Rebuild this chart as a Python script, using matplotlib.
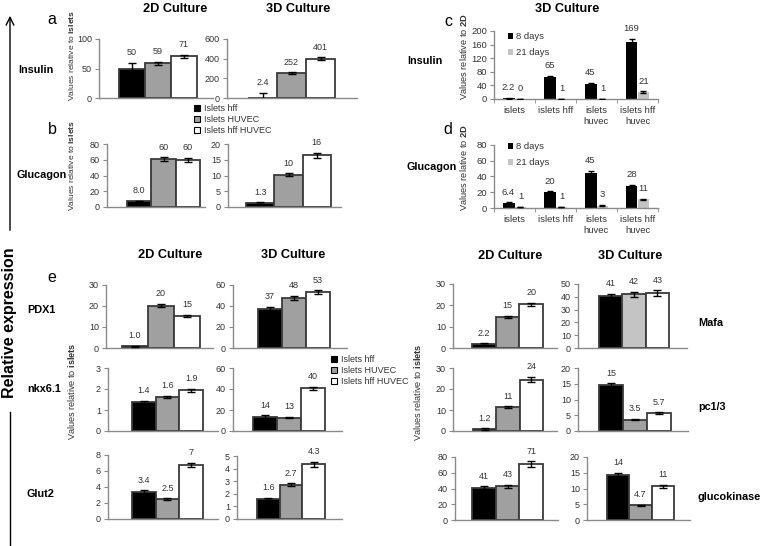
import numpy as np
import matplotlib
matplotlib.use("Agg")
import matplotlib.pyplot as plt
from matplotlib.patches import Patch

plt.rcParams['font.family'] = ['Liberation Sans', 'DejaVu Sans']
plt.rcParams['mathtext.fontset'] = 'custom'
plt.rcParams['mathtext.rm'] = 'Liberation Sans'
plt.rcParams['mathtext.bf'] = 'Liberation Sans:bold'

W, H = 765, 546

# ---- data ----
groups = ['Islets hff', 'Islets HUVEC', 'Islets hff HUVEC']
days = ['8 days', '21 days']
cells = ['islets', 'islets hff', 'islets\nhuvec', 'islets hff\nhuvec']

# a / b : insulin, glucagon relative to islets
ins2d = [49, 59, 70.5]
ins2d_err = [11, 2.5, 3]
ins2d_lbl = ['50', '59', '71']
ins3d = [2.4, 252, 401]
ins3d_err = [50, 8, 15]
ins3d_lbl = ['2.4', '252', '401']
glu2d = [7.0, 60.5, 60]
glu2d_err = [1, 2.5, 2.5]
glu2d_lbl = ['8.0', '60', '60']
glu3d = [1.3, 10.2, 16.5]
glu3d_err = [0.2, 0.5, 0.8]
glu3d_lbl = ['1.3', '10', '16']

# c / d : 3D culture relative to 2D
ins_8d = [2.2, 65, 45, 169]
ins_8d_err = [1, 4, 2, 8]
ins_8d_lbl = ['2.2', '65', '45', '169']
ins_21d = [0.3, 1, 1, 21]
ins_21d_err = [0, 0.3, 0.3, 2]
ins_21d_lbl = ['0', '1', '1', '21']
glc_8d = [6.4, 20, 45, 28]
glc_8d_err = [1, 1.2, 2.5, 1.5]
glc_8d_lbl = ['6.4', '20', '45', '28']
glc_21d = [1, 1, 3, 11]
glc_21d_err = [0.3, 0.3, 0.8, 0.8]
glc_21d_lbl = ['1', '1', '3', '11']

# e : marker genes
pdx1_2d = [0.8, 20.2, 15.2]
pdx1_2d_err = [0.3, 0.8, 0.6]
pdx1_2d_lbl = ['1.0', '20', '15']
pdx1_3d = [37, 48, 53]
pdx1_3d_err = [2, 2, 2]
pdx1_3d_lbl = ['37', '48', '53']
nkx_2d = [1.37, 1.62, 1.93]
nkx_2d_err = [0.08, 0.06, 0.08]
nkx_2d_lbl = ['1.4', '1.6', '1.9']
nkx_3d = [13.8, 12.8, 40.5]
nkx_3d_err = [1, 0.8, 1.5]
nkx_3d_lbl = ['14', '13', '40']
glut2_2d = [3.35, 2.5, 6.75]
glut2_2d_err = [0.25, 0.1, 0.3]
glut2_2d_lbl = ['3.4', '2.5', '7']
glut2_3d = [1.6, 2.7, 4.35]
glut2_3d_err = [0.1, 0.12, 0.2]
glut2_3d_lbl = ['1.6', '2.7', '4.3']
mafa_2d = [1.9, 14.5, 20.5]
mafa_2d_err = [0.4, 0.6, 0.8]
mafa_2d_lbl = ['2.2', '15', '20']
mafa_3d = [40.5, 42, 43]
mafa_3d_err = [2, 2, 2]
mafa_3d_lbl = ['41', '42', '43']
pc13_2d = [0.9, 11.3, 24.5]
pc13_2d_err = [0.3, 0.4, 1.2]
pc13_2d_lbl = ['1.2', '11', '24']
pc13_3d = [14.5, 3.6, 5.7]
pc13_3d_err = [0.7, 0.2, 0.3]
pc13_3d_lbl = ['15', '3.5', '5.7']
gk_2d = [41, 43, 71]
gk_2d_err = [2, 2, 3.5]
gk_2d_lbl = ['41', '43', '71']
gk_3d = [14.2, 4.7, 10.7]
gk_3d_err = [0.8, 0.2, 0.4]
gk_3d_lbl = ['14', '4.7', '11']

# ---- styles ----
SPINE = '#8a8a8a'
TXT = '#333333'
EDGE = '#3a3a3a'
COLS = ['black', '#a0a0a0', 'white']
COLS_MAFA = ['black', '#c4c4c4', 'white']
FS = 6.5

fig = plt.figure(figsize=(W / 100, H / 100), dpi=100)

# overlay in pixel coordinates for free text and the arrow
ov = fig.add_axes([0, 0, 1, 1])
ov.set_xlim(0, W)
ov.set_ylim(H, 0)
ov.axis('off')


def px_axes(x0, y0, x1, y1):
    return fig.add_axes([x0 / W, 1 - y1 / H, (x1 - x0) / W, (y1 - y0) / H])


def style(ax, ymax, step, fs=FS):
    for s in ['top', 'right']:
        ax.spines[s].set_visible(False)
    for s in ['left', 'bottom']:
        ax.spines[s].set_color(SPINE)
        ax.spines[s].set_linewidth(1)
    ax.set_ylim(0, ymax)
    ax.set_yticks(np.arange(0, ymax + step / 2, step))
    ax.tick_params(axis='y', length=3, color=SPINE, labelsize=fs, labelcolor=TXT, pad=2)
    ax.patch.set_alpha(0)


def label_bars(ax, xs, vals, errs, lbls, fs=FS):
    for x, v, e, l in zip(xs, vals, errs, lbls):
        ax.annotate(l, (x, v + e), xytext=(0, 4), textcoords='offset points',
                    ha='center', va='bottom', fontsize=fs, color=TXT)


def triple(box, bars, vals, errs, lbls, ymax, step, colors=COLS):
    x0, y0, x1, y1 = box
    bl, br = bars
    ax = px_axes(x0, y0, x1, y1)
    bw = (br - bl) / 3
    x = np.arange(3)
    ax.bar(x, vals, width=1, color=colors, edgecolor=EDGE, linewidth=1.3, zorder=2)
    ax.errorbar(x, vals, yerr=errs, fmt='none', ecolor='black', elinewidth=1,
                capsize=3, capthick=1, zorder=3)
    label_bars(ax, x, vals, errs, lbls)
    ax.set_xlim(-0.5 - (bl - x0) / bw, 2.5 + (x1 - br) / bw)
    style(ax, ymax, step)
    ax.tick_params(axis='x', length=0, labelbottom=False)
    return ax


def pair(box, v8, e8, l8, v21, e21, l21, ymax, step, leg_xy):
    fs = 6.8
    ax = px_axes(*box)
    x = np.arange(4)
    w = 0.29
    b1 = ax.bar(x - w / 2, v8, w, color='black', linewidth=0, zorder=2, label=days[0])
    b2 = ax.bar(x + w / 2, v21, w, color='#c4c4c4', linewidth=0, zorder=2, label=days[1])
    ax.errorbar(x - w / 2, v8, yerr=e8, fmt='none', ecolor='black', elinewidth=1,
                capsize=2.5, zorder=3)
    ax.errorbar(x + w / 2, v21, yerr=e21, fmt='none', ecolor='black', elinewidth=1,
                capsize=2.5, zorder=3)
    label_bars(ax, x - w / 2, v8, e8, l8, fs)
    label_bars(ax, x + w / 2, v21, e21, l21, fs)
    ax.set_xlim(-0.5, 3.5)
    style(ax, ymax, step, fs)
    ax.set_xticks(x)
    ax.set_xticklabels(cells, fontsize=fs, color=TXT, linespacing=1.3)
    ax.tick_params(axis='x', length=0, pad=5)
    ax.set_xticks(np.arange(-0.5, 4, 1), minor=True)
    ax.tick_params(axis='x', which='minor', length=3, color=SPINE)
    ax.legend(handles=[b1, b2], loc='upper left', frameon=False,
              bbox_to_anchor=(leg_xy[0] / W, 1 - leg_xy[1] / H),
              bbox_transform=fig.transFigure, fontsize=fs,
              handlelength=0.55, handleheight=0.55, handletextpad=0.3,
              labelspacing=0.75, borderpad=0, borderaxespad=0, labelcolor=TXT)
    return ax


# ---- panels a, b ----
triple((99, 39, 213, 98), (119, 197), ins2d, ins2d_err, ins2d_lbl, 100, 50)
triple((227, 39, 357, 98), (248, 335), ins3d, ins3d_err, ins3d_lbl, 600, 200)
triple((107, 144, 205, 207), (127, 200), glu2d, glu2d_err, glu2d_lbl, 80, 20)
triple((228, 144, 341, 207), (246, 331), glu3d, glu3d_err, glu3d_lbl, 20, 5)

# ---- panels c, d ----
pair((494, 31, 658, 99), ins_8d, ins_8d_err, ins_8d_lbl,
     ins_21d, ins_21d_err, ins_21d_lbl, 200, 40, (508, 32))
pair((494, 145, 658, 208), glc_8d, glc_8d_err, glc_8d_lbl,
     glc_21d, glc_21d_err, glc_21d_lbl, 80, 20, (508, 142))

# ---- panel e ----
triple((106, 285, 213, 348), (122, 200), pdx1_2d, pdx1_2d_err, pdx1_2d_lbl, 30, 10)
triple((233, 285, 347, 348), (258, 330), pdx1_3d, pdx1_3d_err, pdx1_3d_lbl, 60, 20)
triple((108, 368, 218, 431), (132, 203), nkx_2d, nkx_2d_err, nkx_2d_lbl, 3, 1)
triple((233, 368, 342, 431), (253, 325), nkx_3d, nkx_3d_err, nkx_3d_lbl, 60, 20)
triple((108, 455, 218, 519), (132, 203), glut2_2d, glut2_2d_err, glut2_2d_lbl, 8, 2)
triple((237, 456, 342, 519), (257, 325), glut2_3d, glut2_3d_err, glut2_3d_lbl, 5, 1)
triple((453, 284, 557, 348), (472, 543), mafa_2d, mafa_2d_err, mafa_2d_lbl, 30, 10)
triple((578, 284, 687, 348), (599, 669), mafa_3d, mafa_3d_err, mafa_3d_lbl, 50, 10,
       colors=COLS_MAFA)
triple((453, 368, 557, 431), (473, 543), pc13_2d, pc13_2d_err, pc13_2d_lbl, 30, 10)
triple((578, 368, 688, 431), (599, 671), pc13_3d, pc13_3d_err, pc13_3d_lbl, 20, 5)
triple((455, 457, 558, 520), (472, 543), gk_2d, gk_2d_err, gk_2d_lbl, 80, 20)
triple((587, 457, 690, 520), (607, 674), gk_3d, gk_3d_err, gk_3d_lbl, 20, 5)

# ---- legends for the three culture conditions ----
handles = [Patch(facecolor=c, edgecolor='black', linewidth=0.8) for c in COLS]
for lx, ly in [(194, 104), (331, 355)]:
    fig.legend(handles, groups, loc='upper left', frameon=False,
               bbox_to_anchor=(lx / W, 1 - ly / H), fontsize=FS, labelcolor=TXT,
               handlelength=0.7, handleheight=0.7, handletextpad=0.4,
               labelspacing=0.22, borderpad=0, borderaxespad=0)

# ---- free text ----
bold = dict(fontweight='bold', color='black')
for x, y, t in [(175, 9, '2D Culture'), (298, 9, '3D Culture'), (567, 9, '3D Culture'),
                (170, 255, '2D Culture'), (293, 255, '3D Culture'),
                (510, 256, '2D Culture'), (630, 256, '3D Culture')]:
    ov.text(x, y, t, ha='center', va='center', fontsize=9.2, **bold)

for x, y, t in [(18, 70, 'Insulin'), (17, 175, 'Glucagon'), (407, 61, 'Insulin'),
                (407, 167, 'Glucagon'), (27, 310, 'PDX1'), (27, 389, 'nkx6.1'),
                (27, 494, 'Glut2'), (698, 323, 'Mafa'), (698, 407, 'pc1/3'),
                (698, 497, 'glucokinase')]:
    ov.text(x, y, t, ha='left', va='center', fontsize=7.8, **bold)

for x, y, t in [(52, 19, 'a'), (52, 130, 'b'), (448, 22, 'c'), (448, 130, 'd'),
                (52, 277, 'e')]:
    ov.text(x, y, t, ha='center', va='center', fontsize=11.5, color='black')

for x, y, t, fs in [(72, 56, r'Values relative to $\mathbf{islets}$', 6.1),
                    (72, 166, r'Values relative to $\mathbf{islets}$', 6.1),
                    (464, 57, r'Values relative to $\mathbf{2D}$', 6.7),
                    (464, 168, r'Values relative to $\mathbf{2D}$', 6.7),
                    (72, 391, r'Values relative to $\mathbf{islets}$', 6.6),
                    (418, 392, r'Values relative to $\mathbf{islets}$', 6.6)]:
    ov.text(x, y, t, ha='center', va='center', rotation=90, fontsize=fs, color=TXT)

ov.text(10, 323, 'Relative expression', ha='center', va='center', rotation=90,
        fontsize=11.5, **bold)
ov.annotate('', xy=(10, 13), xytext=(10, 233),
            arrowprops=dict(arrowstyle='->', lw=1, color='black', mutation_scale=14))
ov.plot([10, 10], [412, 546], color='black', lw=1)

fig.savefig('out.png', dpi=100)
